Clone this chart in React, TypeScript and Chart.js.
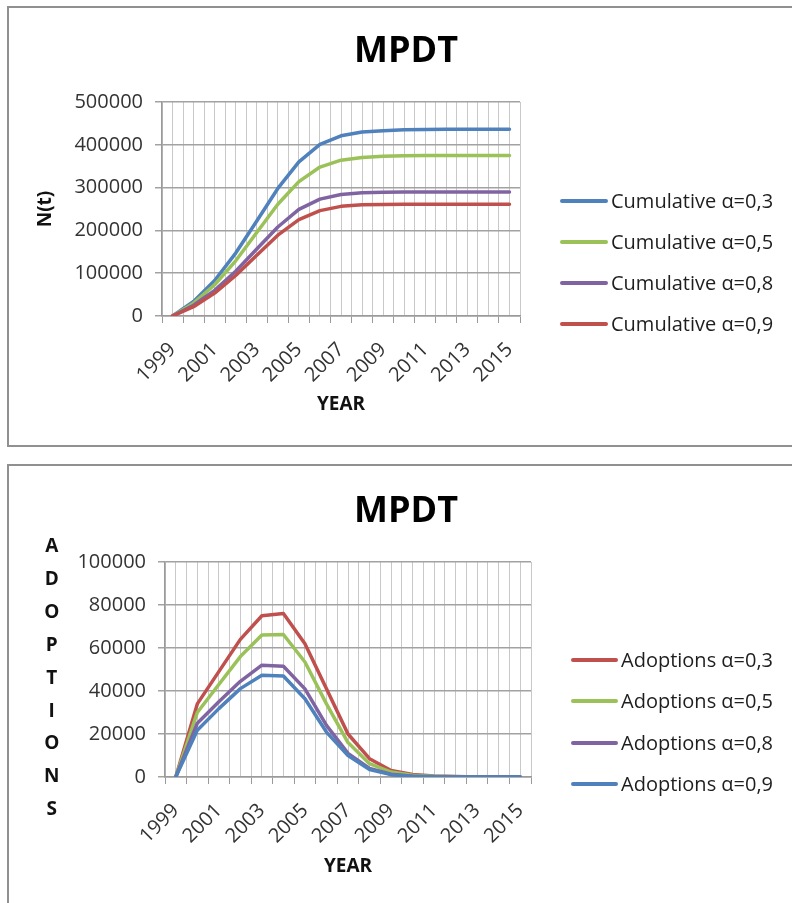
import React, { useEffect, useRef } from 'react';
import { Chart, registerables } from 'chart.js';

Chart.register(...registerables);

// ---- data ----
const years = [1999, 2000, 2001, 2002, 2003, 2004, 2005, 2006, 2007, 2008, 2009, 2010, 2011, 2012, 2013, 2014, 2015];
const labeledYears = [1999, 2001, 2003, 2005, 2007, 2009, 2011, 2013, 2015];

const cumulativeNames = ['Cumulative α=0,3', 'Cumulative α=0,5', 'Cumulative α=0,8', 'Cumulative α=0,9'];
const cumulative03 = [0, 34000, 83000, 147000, 222000, 298000, 360000, 401000, 421000, 430000, 433000, 435000, 436000, 436500, 436500, 436500, 436500];
const cumulative05 = [0, 30000, 73000, 129000, 195000, 261000, 314000, 348000, 364000, 370500, 373000, 374200, 374800, 375000, 375000, 375000, 375000];
const cumulative08 = [0, 25000, 60000, 104500, 156500, 208000, 249000, 273000, 284000, 288000, 289300, 289700, 289800, 289800, 289800, 289800, 289800];
const cumulative09 = [0, 21700, 53500, 94600, 141900, 188900, 225300, 246200, 256200, 259700, 260800, 261100, 261200, 261200, 261200, 261200, 261200];

const adoptionNames = ['Adoptions α=0,3', 'Adoptions α=0,5', 'Adoptions α=0,8', 'Adoptions α=0,9'];
const adoptions03 = [0, 34000, 49000, 64000, 75000, 76000, 62000, 41000, 20000, 8500, 3000, 1200, 500, 200, 50, 0, 0];
const adoptions05 = [0, 30000, 43000, 56000, 66000, 66300, 53500, 34000, 16000, 6200, 2300, 800, 300, 100, 0, 0, 0];
const adoptions08 = [0, 25000, 35000, 44500, 52000, 51500, 41000, 24000, 11000, 4000, 1300, 400, 100, 0, 0, 0, 0];
const adoptions09 = [0, 21700, 31800, 41100, 47300, 47000, 36400, 20900, 10000, 3500, 1100, 300, 100, 0, 0, 0, 0];

const cumulativeTicks = [0, 100000, 200000, 300000, 400000, 500000];
const adoptionTicks = [0, 20000, 40000, 60000, 80000, 100000];

const chartTitle = 'MPDT';
const xAxisTitle = 'YEAR';
const cumulativeAxisTitle = 'N(t)';
const adoptionsAxisTitle = 'ADOPTIONS';

const BLUE = '#4f81bd';
const GREEN = '#9bc159';
const PURPLE = '#8064a2';
const RED = '#c0504d';

const FONT = "'Open Sans', 'DejaVu Sans', sans-serif";
const W = 792;

type Series = { name: string; data: number[]; color: string };
type Area = { left: number; right: number; top: number; bottom: number };

const cumulativeSeries: Series[] = [
  { name: cumulativeNames[0], data: cumulative03, color: BLUE },
  { name: cumulativeNames[1], data: cumulative05, color: GREEN },
  { name: cumulativeNames[2], data: cumulative08, color: PURPLE },
  { name: cumulativeNames[3], data: cumulative09, color: RED },
];

const adoptionSeries: Series[] = [
  { name: adoptionNames[0], data: adoptions03, color: RED },
  { name: adoptionNames[1], data: adoptions05, color: GREEN },
  { name: adoptionNames[2], data: adoptions08, color: PURPLE },
  { name: adoptionNames[3], data: adoptions09, color: BLUE },
];

type ChartProps = {
  top: number;
  height: number;
  series: Series[];
  yTicks: number[];
  yTitle?: string;
  area: Area;
  scaleBottom: number;
  xTitlePad: number;
  yTitlePad: number;
};

function LineChart({ top, height, series, yTicks, yTitle, area, scaleBottom, xTitlePad, yTitlePad }: ChartProps) {
  const ref = useRef<HTMLCanvasElement | null>(null);

  useEffect(() => {
    if (!ref.current) return;
    const n = series.length;
    const chart = new Chart(ref.current, {
      type: 'line',
      data: {
        datasets: series.map((s, i) => ({
          label: s.name,
          data: years.map((x, j) => ({ x, y: s.data[j] })),
          borderColor: s.color,
          backgroundColor: s.color,
          borderWidth: 3.5,
          pointRadius: 0,
          tension: 0,
          borderJoinStyle: 'round',
          borderCapStyle: 'round',
          // later series sit on top
          order: n - 1 - i,
        })),
      },
      options: {
        responsive: false,
        animation: false,
        devicePixelRatio: 1,
        events: [],
        layout: {
          padding: { left: 0, top: area.top, right: W - area.right, bottom: height - scaleBottom },
        },
        plugins: {
          legend: { display: false },
          title: { display: false },
          tooltip: { enabled: false },
        },
        scales: {
          x: {
            type: 'linear',
            min: years[0] - 0.5,
            max: years[years.length - 1] + 0.5,
            afterFit: (s: any) => {
              s.height = scaleBottom - area.bottom;
            },
            border: { display: true, color: '#9a9a9a', width: 1.5 },
            grid: {
              color: '#c8c8c8',
              lineWidth: 1,
              tickLength: 7,
              tickColor: (ctx: any) =>
                ctx.tick && Number.isInteger(ctx.tick.value) ? 'rgba(0,0,0,0)' : '#9a9a9a',
            },
            ticks: {
              stepSize: 0.5,
              autoSkip: false,
              minRotation: 45,
              maxRotation: 45,
              padding: 15,
              color: '#333',
              font: { family: FONT, size: 20 },
              callback: (v: any) => (labeledYears.includes(Number(v)) ? String(v) : ''),
            },
            title: {
              display: true,
              text: xAxisTitle,
              color: '#111',
              font: { family: FONT, size: 19, weight: 'bold' },
              padding: { top: 0, bottom: xTitlePad },
            },
          },
          y: {
            type: 'linear',
            min: yTicks[0],
            max: yTicks[yTicks.length - 1],
            afterFit: (s: any) => {
              s.width = area.left;
            },
            border: { display: true, color: '#9a9a9a', width: 1.5 },
            grid: { color: '#a2a2a2', lineWidth: 1.5, tickLength: 7 },
            ticks: {
              stepSize: yTicks[1] - yTicks[0],
              padding: 12,
              color: '#333',
              font: { family: FONT, size: 20 },
              callback: (v: any) => String(v),
            },
            title: {
              display: !!yTitle,
              text: yTitle || '',
              color: '#111',
              font: { family: FONT, size: 19, weight: 'bold' },
              padding: { top: yTitlePad, bottom: 0 },
            },
          },
        },
      } as any,
    });
    return () => chart.destroy();
  }, []);

  return (
    <canvas
      ref={ref}
      width={W}
      height={height}
      style={{ position: 'absolute', left: 0, top, width: W, height }}
    />
  );
}

function Legend({ items, lineLeft, lineWidth, firstY, step }: { items: Series[]; lineLeft: number; lineWidth: number; firstY: number; step: number }) {
  return (
    <div style={{ position: 'absolute', left: lineLeft, top: firstY - step / 2 }}>
      {items.map((s) => (
        <div key={s.name} style={{ display: 'flex', alignItems: 'center', height: step }}>
          <div style={{ width: lineWidth, height: 4, background: s.color, borderRadius: 2 }} />
          <span
            style={{
              marginLeft: 3,
              fontFamily: FONT,
              fontSize: 20,
              lineHeight: 1,
              color: '#1e1e1e',
              whiteSpace: 'nowrap',
            }}
          >
            {s.name}
          </span>
        </div>
      ))}
    </div>
  );
}

function Title({ x, y }: { x: number; y: number }) {
  return (
    <div
      style={{
        position: 'absolute',
        left: x,
        top: y,
        transform: 'translate(-50%, -50%)',
        fontFamily: FONT,
        fontWeight: 700,
        fontSize: 36,
        lineHeight: 1,
        color: '#000',
        whiteSpace: 'nowrap',
      }}
    >
      {chartTitle}
    </div>
  );
}

export default function App() {
  const boxStyle: React.CSSProperties = {
    position: 'absolute',
    left: 7,
    width: 900,
    boxSizing: 'border-box',
    border: '2px solid #909090',
    background: '#fff',
  };

  return (
    <div
      style={{
        position: 'absolute',
        left: 0,
        top: 0,
        width: W,
        height: 903,
        overflow: 'hidden',
        background: '#fff',
      }}
    >
      <div style={{ ...boxStyle, top: 6, height: 441 }} />
      <div style={{ ...boxStyle, top: 464, height: 500 }} />

      <LineChart
        top={0}
        height={450}
        series={cumulativeSeries}
        yTicks={cumulativeTicks}
        yTitle={cumulativeAxisTitle}
        area={{ left: 162, right: 520, top: 102, bottom: 316 }}
        scaleBottom={424}
        xTitlePad={8}
        yTitlePad={34}
      />
      <Title x={406} y={49} />
      <Legend items={cumulativeSeries} lineLeft={560} lineWidth={48} firstY={200.7} step={41.1} />

      <LineChart
        top={452}
        height={451}
        series={adoptionSeries}
        yTicks={adoptionTicks}
        area={{ left: 165, right: 531, top: 110, bottom: 325 }}
        scaleBottom={430}
        xTitlePad={4}
        yTitlePad={0}
      />
      <Title x={406} y={509} />
      <Legend items={adoptionSeries} lineLeft={571} lineWidth={47} firstY={660} step={41.3} />

      {adoptionsAxisTitle.split('').map((ch, i) => (
        <div
          key={i}
          style={{
            position: 'absolute',
            left: 51.7,
            top: 545 + i * 32.9,
            transform: 'translate(-50%, -50%)',
            fontFamily: FONT,
            fontWeight: 700,
            fontSize: 19,
            lineHeight: 1,
            color: '#111',
          }}
        >
          {ch}
        </div>
      ))}
    </div>
  );
}
